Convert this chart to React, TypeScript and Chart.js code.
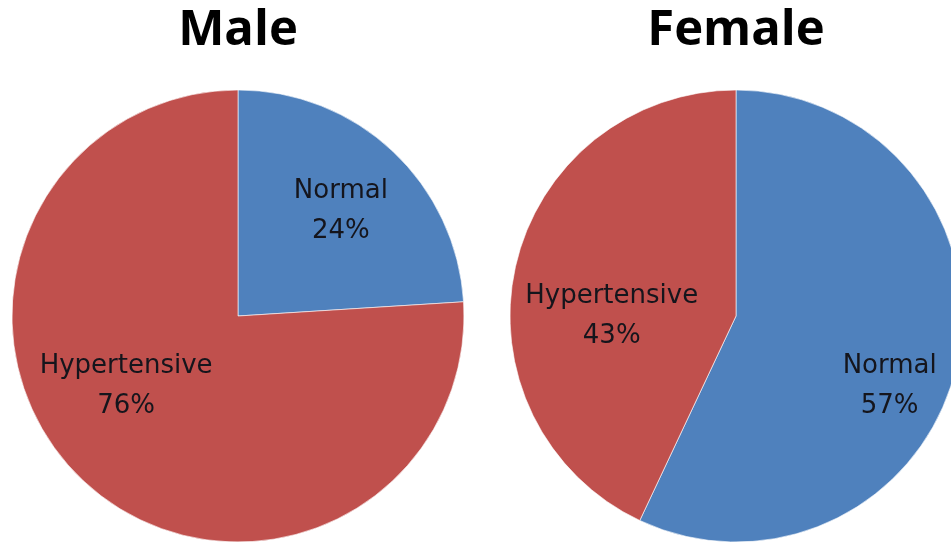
import React, { useEffect, useRef } from "react";
import { Chart, registerables } from "chart.js";

Chart.register(...registerables);

// Blood pressure status by sex
const categories = ["Normal", "Hypertensive"];
const maleShares = [24, 76];
const femaleShares = [57, 43];
const sliceColors = ["#4F81BD", "#C0504D"];

// Label anchors (fractions of the radius, relative to the pie centre)
const maleLabelAnchors = [
  [0.455, -0.465],
  [-0.495, 0.31],
];
const femaleLabelAnchors = [
  [0.68, 0.31],
  [-0.55, 0.0],
];

const sliceLabelPlugin = {
  id: "sliceLabels",
  afterDatasetsDraw(chart: any, _args: any, opts: any) {
    const ctx = chart.ctx;
    const meta = chart.getDatasetMeta(0);
    const anchors = opts.anchors || [];
    const labels = chart.data.labels;
    const values = chart.data.datasets[0].data;
    ctx.save();
    ctx.font = "26px 'DejaVu Sans'";
    ctx.fillStyle = "#15151c";
    ctx.textAlign = "center";
    ctx.textBaseline = "middle";
    meta.data.forEach((arc: any, i: number) => {
      const a = anchors[i];
      if (!a) return;
      const r = arc.outerRadius;
      const x = arc.x + a[0] * r;
      const y = arc.y + a[1] * r;
      ctx.fillText(String(labels[i]), x, y - 20);
      ctx.fillText(values[i] + "%", x, y + 20);
    });
    ctx.restore();
  },
};

function PieChart({
  title,
  values,
  anchors,
}: {
  title: string;
  values: number[];
  anchors: number[][];
}) {
  const ref = useRef<HTMLCanvasElement | null>(null);
  useEffect(() => {
    if (!ref.current) return;
    const chart = new Chart(ref.current, {
      type: "pie",
      data: {
        labels: categories,
        datasets: [
          {
            data: values,
            backgroundColor: sliceColors,
            borderColor: "rgba(255,255,255,0.6)",
            borderWidth: 1,
            hoverOffset: 0,
          },
        ],
      },
      options: {
        animation: false,
        responsive: false,
        radius: 226,
        layout: { padding: 0 },
        plugins: {
          legend: { display: false },
          tooltip: { enabled: false },
          title: {
            display: true,
            text: title,
            color: "#000",
            font: { family: "'Open Sans'", size: 49, weight: "bold", lineHeight: 1.2 },
            padding: { top: 2, bottom: 28.2 },
          },
          sliceLabels: { anchors },
        } as any,
      },
      plugins: [sliceLabelPlugin],
    });
    return () => chart.destroy();
  }, [title, values, anchors]);
  return <canvas ref={ref} width={476} height={543} style={{ display: "block" }} />;
}

export default function App() {
  useEffect(() => {
    document.body.style.margin = "0";
  }, []);
  return (
    <div
      style={{
        position: "relative",
        width: 951,
        height: 543,
        overflow: "hidden",
        background: "#fff",
      }}
    >
      <div style={{ position: "absolute", left: 0, top: 0 }}>
        <PieChart title="Male" values={maleShares} anchors={maleLabelAnchors} />
      </div>
      <div style={{ position: "absolute", left: 498, top: 0 }}>
        <PieChart title="Female" values={femaleShares} anchors={femaleLabelAnchors} />
      </div>
    </div>
  );
}
